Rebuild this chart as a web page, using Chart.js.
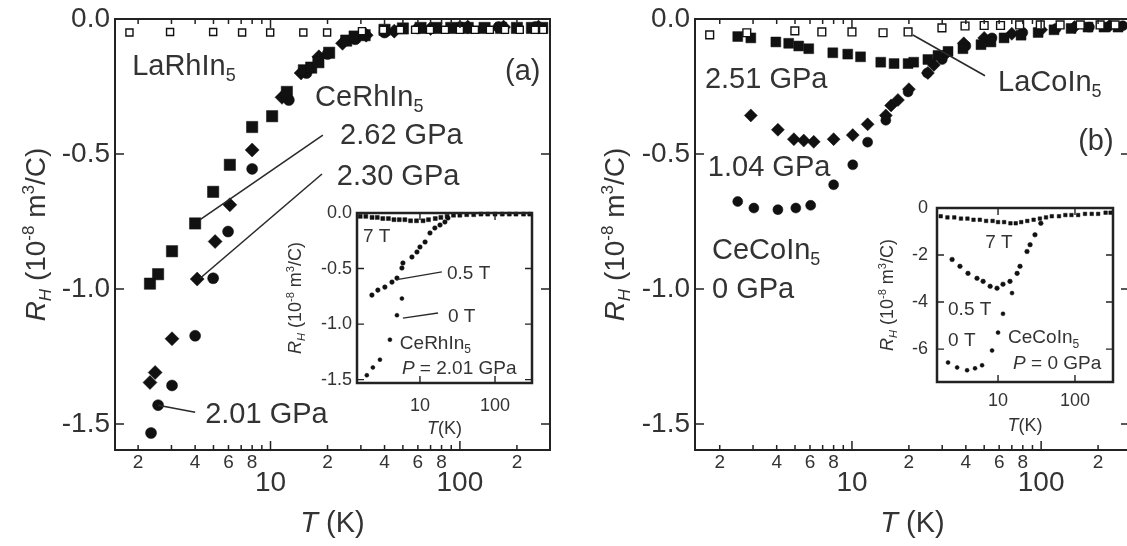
<!DOCTYPE html>
<html>
<head>
<meta charset="utf-8">
<script src="https://cdn.jsdelivr.net/npm/chart.js@4.4.1/dist/chart.umd.min.js"></script>
<style>
html, body { margin: 0; padding: 0; background: #fff; overflow: hidden; }
#page { position: relative; width: 1127px; height: 546px; overflow: hidden; background: #fff; }
canvas { position: absolute; }
</style>
</head>
<body>
<div id="page">
  <canvas id="mainA" width="575" height="546" style="left:0;top:0"></canvas>
  <canvas id="mainB" width="560" height="546" style="left:580px;top:0"></canvas>
  <canvas id="insetA" width="275" height="245" style="left:270px;top:195px"></canvas>
  <canvas id="insetB" width="267" height="250" style="left:860px;top:190px"></canvas>
</div>
<script>
const FONT = '"Liberation Sans", Arial, Helvetica, sans-serif';
const INK = '#111';
const TEXT = '#333';
const FRAME = '#222';

// ---- axis ticks ----
const xTickVals = [2, 3, 4, 5, 6, 7, 8, 9, 10, 20, 30, 40, 50, 60, 70, 80, 90, 100, 200, 300];
const xTickText = ['2', '', '4', '', '6', '', '8', '', '10', '2', '', '4', '', '6', '', '8', '', '100', '2', ''];
const xBig = [10, 100];
const mainYTicks = [-1.5, -1.0, -0.5, 0.0];
const insetXTicks = [10, 100];
const insetAYTicks = [-1.5, -1.0, -0.5, 0.0];
const insetBYTicks = [-6, -4, -2, 0];

// ---- panel (a): LaRhIn5 and CeRhIn5 under pressure ----
const laRhT = [1.8, 2.95, 4.98, 7.08, 9.96, 14.9, 19.9, 30.4, 39.3, 48.3, 58, 69.5, 83.4, 100, 120, 144, 173, 207, 249, 275];
const laRhR = [-0.05, -0.048, -0.048, -0.05, -0.05, -0.05, -0.05, -0.045, -0.04, -0.04, -0.04, -0.04, -0.04, -0.04, -0.04, -0.04, -0.04, -0.04, -0.04, -0.04];
const p262T = [2.31, 2.55, 3.02, 4.0, 4.98, 6.1, 8.0, 10.2, 12.2, 15.0, 16.4, 17.9, 20.4, 25.1, 27.8, 31.4, 40, 50, 62, 75, 90, 110, 135, 165, 200, 240, 272];
const p262R = [-0.98, -0.945, -0.86, -0.757, -0.64, -0.54, -0.40, -0.36, -0.27, -0.19, -0.18, -0.16, -0.125, -0.08, -0.065, -0.06, -0.04, -0.035, -0.033, -0.033, -0.033, -0.033, -0.033, -0.033, -0.033, -0.033, -0.033];
const p230T = [2.31, 2.46, 3.02, 4.1, 5.1, 6.1, 8.0, 11.5, 14.5, 18, 24, 32, 45, 70, 110, 170, 260];
const p230R = [-1.346, -1.309, -1.184, -0.963, -0.824, -0.688, -0.485, -0.29, -0.2, -0.14, -0.09, -0.06, -0.045, -0.035, -0.03, -0.03, -0.03];
const p201T = [2.34, 2.55, 3.02, 4.0, 4.98, 5.97, 8.0, 12.5, 15.5, 20, 28, 40, 60, 100, 160, 250];
const p201R = [-1.533, -1.43, -1.357, -1.173, -0.96, -0.787, -0.555, -0.3, -0.2, -0.13, -0.075, -0.05, -0.035, -0.03, -0.03, -0.03];

// ---- panel (b): LaCoIn5 and CeCoIn5 under pressure ----
const laCoT = [1.77, 2.78, 4.99, 6.93, 10.0, 14.6, 19.8, 29.9, 39.6, 50, 61, 77, 99, 126, 161, 205, 246];
const laCoR = [-0.059, -0.051, -0.044, -0.048, -0.048, -0.051, -0.048, -0.033, -0.026, -0.024, -0.024, -0.022, -0.022, -0.022, -0.022, -0.022, -0.022];
const p251T = [2.49, 2.92, 3.96, 4.63, 5.23, 5.91, 7.92, 9.5, 11.1, 14.2, 16.7, 19.8, 21.2, 25.2, 28.5, 32.2, 38.6, 48.1, 54.3, 63.7, 78.3, 96.4, 117, 144, 177, 215, 255];
const p251R = [-0.065, -0.07, -0.085, -0.09, -0.10, -0.11, -0.125, -0.13, -0.14, -0.16, -0.165, -0.165, -0.16, -0.15, -0.135, -0.12, -0.11, -0.095, -0.085, -0.07, -0.06, -0.05, -0.04, -0.035, -0.03, -0.03, -0.03];
const p104T = [2.92, 4.06, 4.93, 5.56, 6.28, 8.0, 10.1, 12.1, 15.1, 16.1, 17.5, 20.0, 25.2, 27.1, 30.6, 39, 50, 70, 100, 150, 230];
const p104R = [-0.357, -0.41, -0.445, -0.45, -0.455, -0.445, -0.43, -0.39, -0.357, -0.32, -0.30, -0.26, -0.20, -0.17, -0.136, -0.09, -0.07, -0.055, -0.04, -0.03, -0.025];
const p0T = [2.49, 3.03, 4.06, 5.05, 6.05, 8.0, 10.1, 12.1, 15.1, 19.8, 25, 30, 40, 55, 80, 120, 180, 270];
const p0R = [-0.676, -0.70, -0.706, -0.70, -0.69, -0.614, -0.54, -0.456, -0.375, -0.27, -0.2, -0.15, -0.1, -0.07, -0.05, -0.035, -0.03, -0.025];

// ---- inset (a): CeRhIn5, P = 2.01 GPa ----
const inA7T = [1.6, 1.9, 2.3, 2.7, 3.2, 3.8, 4.5, 5.3, 6.3, 7.5, 9, 11, 13, 16, 19, 23, 28, 34, 42, 52, 65, 80, 100, 125, 155, 190, 240, 290];
const inA7R = [-0.03, -0.03, -0.04, -0.04, -0.05, -0.05, -0.06, -0.06, -0.06, -0.07, -0.07, -0.07, -0.06, -0.05, -0.04, -0.03, -0.02, -0.02, -0.015, -0.015, -0.01, -0.01, -0.01, -0.01, -0.01, -0.01, -0.01, -0.01];
const inA05T = [2.29, 2.75, 3.41, 4.24, 4.94, 5.75, 5.93, 7.82, 9.12, 10, 11.7, 13.6, 15.8, 18.5, 21.5, 23.6];
const inA05R = [-0.739, -0.694, -0.667, -0.622, -0.586, -0.495, -0.45, -0.396, -0.351, -0.306, -0.261, -0.18, -0.135, -0.108, -0.081, -0.045];
const inA0T = [1.96, 2.36, 2.93, 3.98, 4.94, 5.75];
const inA0R = [-1.46, -1.39, -1.32, -1.14, -0.92, -0.77];

// ---- inset (b): CeCoIn5, P = 0 GPa ----
const inB7T = [1.8, 2.2, 2.7, 3.3, 4, 4.8, 5.8, 7, 8.5, 10, 12, 14.5, 17, 20, 24, 29, 35, 42, 50, 62, 75, 90, 110, 135, 165, 200, 250, 290];
const inB7R = [-0.35, -0.4, -0.4, -0.45, -0.45, -0.5, -0.5, -0.55, -0.55, -0.6, -0.6, -0.65, -0.65, -0.6, -0.55, -0.5, -0.45, -0.4, -0.35, -0.35, -0.3, -0.3, -0.3, -0.25, -0.25, -0.25, -0.2, -0.2];
const inB05T = [2.53, 3.2, 4.07, 5.33, 6.4, 7.9, 9.7, 11.6, 14.3, 17.7, 19.3, 23.8, 26.1, 30.2, 36];
const inB05R = [-2.19, -2.48, -2.78, -2.99, -3.12, -3.33, -3.41, -3.24, -3.12, -2.78, -2.48, -1.85, -1.56, -1.14, -0.65];
const inB0T = [2.24, 2.94, 3.96, 5.02, 6.2, 8.36, 10, 11.6, 15.2];
const inB0R = [-6.57, -6.78, -6.9, -6.82, -6.69, -6.06, -5.3, -4.5, -3.62];

// ---- text ----
const yTitleParts = [['R', 'i'], ['H', 'isub'], [' (10', ''], ['-8', 'sup'], [' m', ''], ['3', 'sup'], ['/C)', '']];
const xTitleParts = [['T', 'i'], [' (K)', '']];
const insetXTitleParts = [['T', 'i'], ['(K)', '']];

const notesA = [
  { x: 1.86, y: -0.169, parts: [['LaRhIn', ''], ['5', 'sub']] },
  { x: 17.2, y: -0.283, parts: [['CeRhIn', ''], ['5', 'sub']] },
  { x: 23.3, y: -0.426, parts: [['2.62 GPa', '']] },
  { x: 22.4, y: -0.577, parts: [['2.30 GPa', '']] },
  { x: 4.52, y: -1.456, parts: [['2.01 GPa', '']] },
  { x: 173, y: -0.1875, parts: [['(a)', '']] }
];
const leadersA = [[4.25, -0.743, 18.9, -0.43], [4.25, -0.96, 18.7, -0.574], [2.55, -1.43, 4.0, -1.456]];

const notesB = [
  { x: 1.67, y: -0.217, parts: [['2.51 GPa', '']] },
  { x: 1.73, y: -0.544, parts: [['1.04 GPa', '']] },
  { x: 1.82, y: -0.849, parts: [['CeCoIn', ''], ['5', 'sub']] },
  { x: 1.82, y: -0.996, parts: [['0 GPa', '']] },
  { x: 59.2, y: -0.228, parts: [['LaCoIn', ''], ['5', 'sub']] },
  { x: 157, y: -0.445, parts: [['(b)', '']] }
];
const leadersB = [[21, -0.059, 50.5, -0.21]];

const notesInA = [
  { x: 1.74, y: -0.198, parts: [['7 T', '']] },
  { x: 22.9, y: -0.53, parts: [['0.5 T', '']] },
  { x: 23.6, y: -0.92, parts: [['0 T', '']] },
  { x: 5.4, y: -1.16, parts: [['CeRhIn', ''], ['5', 'sub']] },
  { x: 5.75, y: -1.39, parts: [['P', 'i'], [' = 2.01 GPa', '']] }
];
const leadersInA = [[4.94, -0.60, 19.6, -0.53], [5.93, -0.946, 17.4, -0.90]];

const notesInB = [
  { x: 6.8, y: -1.43, parts: [['7 T', '']] },
  { x: 2.24, y: -4.25, parts: [['0.5 T', '']] },
  { x: 2.24, y: -5.56, parts: [['0 T', '']] },
  { x: 13.5, y: -5.47, parts: [['CeCoIn', ''], ['5', 'sub']] },
  { x: 15.7, y: -6.57, parts: [['P', 'i'], [' = 0 GPa', '']] }
];

// ---- helpers ----
function partFont(mode, size) {
  const small = mode.includes('sub') || mode.includes('sup');
  const s = small ? Math.round(size * 0.62) : size;
  return (mode.includes('i') ? 'italic ' : '') + s + 'px ' + FONT;
}

function richWidth(ctx, parts, size) {
  let w = 0;
  parts.forEach(p => { ctx.font = partFont(p[1], size); w += ctx.measureText(p[0]).width; });
  return w;
}

// y is the vertical middle of the capitals
function drawRich(ctx, parts, x, y, size, align) {
  ctx.save();
  ctx.textAlign = 'left';
  ctx.textBaseline = 'alphabetic';
  let cx = align === 'center' ? x - richWidth(ctx, parts, size) / 2 : x;
  const base = y + size * 0.36;
  parts.forEach(p => {
    const mode = p[1];
    ctx.font = partFont(mode, size);
    let dy = 0;
    if (mode.includes('sub')) dy = size * 0.22;
    if (mode.includes('sup')) dy = -size * 0.40;
    ctx.fillText(p[0], cx, base + dy);
    cx += ctx.measureText(p[0]).width;
  });
  ctx.restore();
}

function series(T, R, style, r, open) {
  return {
    data: T.map((t, i) => ({ x: t, y: R[i] })),
    pointStyle: style,
    pointRadius: r,
    pointBackgroundColor: open ? '#fff' : INK,
    pointBorderColor: INK,
    pointBorderWidth: open ? 1.4 : 0.5,
    clip: false
  };
}

// frame, inward ticks, titles and notes
function makeDeco(cfg) {
  return {
    id: 'deco',
    beforeDraw(chart) {
      if (!cfg.fill) return;
      const a = chart.chartArea, c = chart.ctx;
      c.save();
      c.fillStyle = '#fff';
      c.fillRect(a.left, a.top, a.right - a.left, a.bottom - a.top);
      c.restore();
    },
    afterDraw(chart) {
      const c = chart.ctx, a = chart.chartArea;
      const sx = chart.scales.x, sy = chart.scales.y;
      c.save();
      c.strokeStyle = FRAME;
      c.lineWidth = cfg.tickW;
      c.beginPath();
      cfg.xTicks.forEach(v => {
        if (v < sx.min || v > sx.max) return;
        const px = sx.getPixelForValue(v);
        const len = cfg.xMajor.includes(v) ? cfg.majorLen : cfg.minorLen;
        c.moveTo(px, a.bottom); c.lineTo(px, a.bottom - len);
        c.moveTo(px, a.top); c.lineTo(px, a.top + len);
      });
      cfg.yTicks.forEach(v => {
        const py = sy.getPixelForValue(v);
        c.moveTo(a.left, py); c.lineTo(a.left + cfg.majorLen, py);
        c.moveTo(a.right, py); c.lineTo(a.right - cfg.majorLen, py);
      });
      c.stroke();
      c.lineWidth = cfg.frameW;
      c.strokeRect(a.left, a.top, a.right - a.left, a.bottom - a.top);

      c.lineWidth = cfg.leadW;
      c.strokeStyle = '#2a2a2a';
      (cfg.leaders || []).forEach(l => {
        c.beginPath();
        c.moveTo(sx.getPixelForValue(l[0]), sy.getPixelForValue(l[1]));
        c.lineTo(sx.getPixelForValue(l[2]), sy.getPixelForValue(l[3]));
        c.stroke();
      });

      c.fillStyle = TEXT;
      (cfg.notes || []).forEach(n => {
        drawRich(c, n.parts, sx.getPixelForValue(n.x), sy.getPixelForValue(n.y), cfg.noteSize, 'left');
      });

      const yt = cfg.yTitle;
      c.save();
      c.translate(a.left - yt.dx, (a.top + a.bottom) / 2);
      c.rotate(-Math.PI / 2);
      drawRich(c, yt.parts, 0, 0, yt.size, 'center');
      c.restore();

      const xt = cfg.xTitle;
      drawRich(c, xt.parts, (a.left + a.right) / 2, a.bottom + xt.dy, xt.size, 'center');
      c.restore();
    }
  };
}

function makeChart(id, o) {
  return new Chart(document.getElementById(id), {
    type: 'scatter',
    data: { datasets: o.datasets },
    options: {
      responsive: false,
      animation: false,
      events: [],
      layout: { padding: o.pad },
      plugins: { legend: { display: false }, tooltip: { enabled: false } },
      scales: {
        x: {
          type: 'logarithmic',
          min: o.xMin,
          max: o.xMax,
          afterBuildTicks: s => {
            s.ticks = o.xTicks.filter(v => v >= o.xMin && v <= o.xMax).map(v => ({ value: v }));
          },
          afterFit: s => { s.height = o.xH; },
          grid: { display: false, drawTicks: false },
          border: { display: false },
          ticks: {
            autoSkip: false, maxRotation: 0, minRotation: 0,
            padding: o.xPad, color: TEXT,
            font: o.xFont,
            callback: o.xLabel
          }
        },
        y: {
          type: 'linear',
          min: o.yMin,
          max: o.yMax,
          afterBuildTicks: s => { s.ticks = o.yTicks.map(v => ({ value: v })); },
          afterFit: s => { s.width = o.yW; },
          grid: { display: false, drawTicks: false },
          border: { display: false },
          ticks: {
            padding: o.yPad, color: TEXT,
            font: { family: FONT, size: o.yFont, lineHeight: 1 },
            callback: o.yLabel
          }
        }
      }
    },
    plugins: [makeDeco(o.deco)]
  });
}

const mainXFont = c => (c.tick && xBig.includes(c.tick.value))
  ? { family: FONT, size: 28, lineHeight: 0.75 }
  : { family: FONT, size: 19, lineHeight: 1.15 };
const mainXLabel = v => {
  const t = xTickText[xTickVals.indexOf(v)] || '';
  return xBig.includes(v) ? ['', t] : t;
};

makeChart('mainA', {
  datasets: [
    series(laRhT, laRhR, 'rect', 5, true),
    series(p262T, p262R, 'rect', 8, false),
    series(p230T, p230R, 'rectRot', 7, false),
    series(p201T, p201R, 'circle', 5.5, false)
  ],
  pad: { left: 0, top: 16, right: 25, bottom: 0 },
  xMin: 1.51, xMax: 299, xTicks: xTickVals, xH: 96, xPad: 2, xFont: mainXFont, xLabel: mainXLabel,
  yMin: -1.596, yMax: 0, yTicks: mainYTicks, yW: 115, yPad: 5, yFont: 28, yLabel: v => v.toFixed(1),
  deco: {
    fill: false, frameW: 2, tickW: 1.5, leadW: 1.6, majorLen: 9, minorLen: 5,
    xTicks: xTickVals, xMajor: xBig, yTicks: mainYTicks,
    noteSize: 29, notes: notesA, leaders: leadersA,
    yTitle: { parts: yTitleParts, dx: 80, size: 28 },
    xTitle: { parts: xTitleParts, dy: 72, size: 29 }
  }
});

makeChart('mainB', {
  datasets: [
    series(laCoT, laCoR, 'rect', 5.5, true),
    series(p251T, p251R, 'rect', 7, false),
    series(p104T, p104R, 'rectRot', 6.5, false),
    series(p0T, p0R, 'circle', 5, false)
  ],
  pad: { left: 0, top: 16, right: 10, bottom: 0 },
  xMin: 1.48, xMax: 295, xTicks: xTickVals, xH: 96, xPad: 2, xFont: mainXFont, xLabel: mainXLabel,
  yMin: -1.596, yMax: 0, yTicks: mainYTicks, yW: 115, yPad: 5, yFont: 28, yLabel: v => v.toFixed(1),
  deco: {
    fill: false, frameW: 2, tickW: 1.5, leadW: 1.6, majorLen: 9, minorLen: 5,
    xTicks: xTickVals, xMajor: xBig, yTicks: mainYTicks,
    noteSize: 29, notes: notesB, leaders: leadersB,
    yTitle: { parts: yTitleParts, dx: 81, size: 28 },
    xTitle: { parts: xTitleParts, dy: 72, size: 29 }
  }
});

makeChart('insetA', {
  datasets: [
    series(inA7T, inA7R, 'rect', 2.8, false),
    series(inA05T, inA05R, 'circle', 2.3, false),
    series(inA0T, inA0R, 'circle', 2.0, false)
  ],
  pad: { left: 0, top: 18, right: 13, bottom: 0 },
  xMin: 1.45, xMax: 311, xTicks: insetXTicks, xH: 57, xPad: 12,
  xFont: { family: FONT, size: 18, lineHeight: 1.2 }, xLabel: v => String(v),
  yMin: -1.53, yMax: 0, yTicks: insetAYTicks, yW: 87, yPad: 5, yFont: 18, yLabel: v => v.toFixed(1),
  deco: {
    fill: true, frameW: 2.5, tickW: 1.4, leadW: 1.4, majorLen: 7, minorLen: 0,
    xTicks: insetXTicks, xMajor: insetXTicks, yTicks: insetAYTicks,
    noteSize: 19, notes: notesInA, leaders: leadersInA,
    yTitle: { parts: yTitleParts, dx: 62, size: 18 },
    xTitle: { parts: insetXTitleParts, dy: 45, size: 18 }
  }
});

makeChart('insetB', {
  datasets: [
    series(inB7T, inB7R, 'rect', 2.5, false),
    series(inB05T, inB05R, 'circle', 2.3, false),
    series(inB0T, inB0R, 'circle', 2.0, false)
  ],
  pad: { left: 0, top: 16, right: 14, bottom: 0 },
  xMin: 1.61, xMax: 312, xTicks: insetXTicks, xH: 58, xPad: 8,
  xFont: { family: FONT, size: 18, lineHeight: 1.2 }, xLabel: v => String(v),
  yMin: -7.4, yMax: 0, yTicks: insetBYTicks, yW: 77, yPad: 9, yFont: 18, yLabel: v => String(v),
  deco: {
    fill: true, frameW: 2.5, tickW: 1.4, leadW: 1.4, majorLen: 7, minorLen: 0,
    xTicks: insetXTicks, xMajor: insetXTicks, yTicks: insetBYTicks,
    noteSize: 19, notes: notesInB, leaders: [],
    yTitle: { parts: yTitleParts, dx: 50, size: 18 },
    xTitle: { parts: insetXTitleParts, dy: 43, size: 18 }
  }
});
</script>
</body>
</html>
